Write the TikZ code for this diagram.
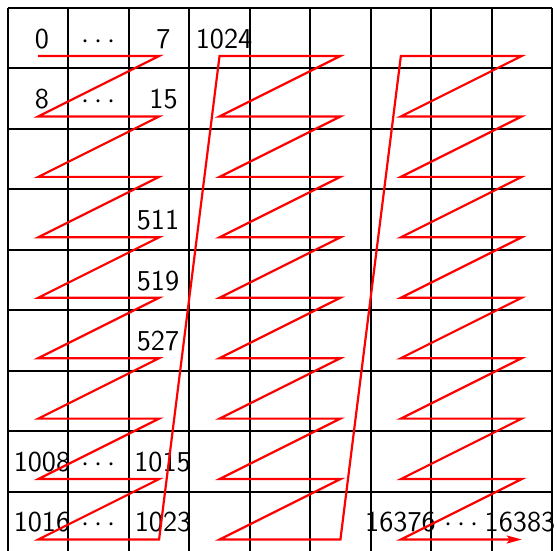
\documentclass[tikz,border=0pt]{standalone}
\usetikzlibrary{arrows.meta}
\begin{document}
\begin{tikzpicture}[x=0.5pt,y=-0.5pt,
  gridline/.style={black,line width=1pt},
  zz/.style={red,line width=1.1pt},
  lab/.style={font=\sffamily\Large,inner sep=0pt,anchor=base},
]
\useasboundingbox (0,0) rectangle (557,551);
\def\c{60.44}
% grid
\foreach \i in {0,...,9}{
  \draw[gridline] ({8+\i*\c},8) -- ({8+\i*\c},{8+9*\c});
  \draw[gridline] (8,{8+\i*\c}) -- ({8+9*\c},{8+\i*\c});
}
% labels (base line = row centre + 10)
\node[lab] (n0)     at (42,48.2)    {0};
\node[lab] (d0)     at (98.7,48.2)  {$\cdots$};
\node[lab] (n7)     at (163.5,48.2) {7};
\node[lab] (n1024)  at (224,48.2)   {1024};
\node[lab] (n8)     at (42,108.7)   {8};
\node[lab] (d1)     at (98.7,108.7) {$\cdots$};
\node[lab] (n15)    at (163.5,108.7){15};
\node[lab] (n511)   at (158,229.5)  {511};
\node[lab] (n519)   at (158,290)    {519};
\node[lab] (n527)   at (158,350.4)  {527};
\node[lab] (n1008)  at (42,471.3)   {1008};
\node[lab] (d7)     at (98.7,471.3) {$\cdots$};
\node[lab] (n1015)  at (162.5,471.3){1015};
\node[lab] (n1016)  at (42,531.8)   {1016};
\node[lab] (d8)     at (98.7,531.8) {$\cdots$};
\node[lab] (n1023)  at (163,531.8)  {1023};
\node[lab] (n16376) at (400.5,531.8){16376};
\node[lab] (d9)     at (461.3,531.8){$\cdots$};
\node[lab] (n16383) at (520,531.8)  {16383};
% z-order curve
\coordinate (start) at ({8+0.5*\c},56);
\draw[zz,-{Stealth[length=7.5pt,width=4pt,inset=1.5pt]}] (start) -- ({8+2.5*\c},56)
  \foreach \n [evaluate=\n as \b using {int(\n/9)}, evaluate=\n as \k using {int(mod(\n,9))}] in {1,...,26} {
    -- ({8+(3*\b+0.5)*\c},{56+\k*\c}) -- ({8+(3*\b+2.5)*\c},{56+\k*\c})
  };
\end{tikzpicture}
\end{document}
